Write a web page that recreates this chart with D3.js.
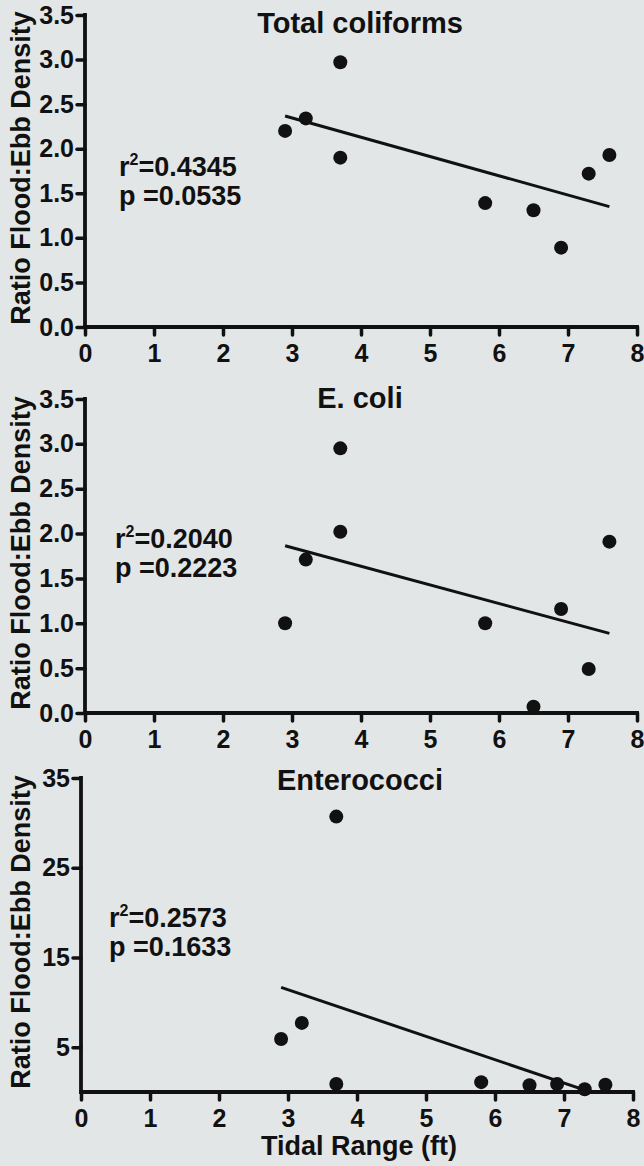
<!DOCTYPE html>
<html>
<head>
<meta charset="utf-8">
<script src="https://cdn.jsdelivr.net/npm/d3@7"></script>
<style>
  html, body { margin: 0; padding: 0; background: #e3e6e6; }
  svg { display: block; }
  text { font-family: "Liberation Sans", Arial, Helvetica, sans-serif; font-weight: bold; fill: #111; }
</style>
</head>
<body>
<script>
// ---- Data ----
const tidalRange = [2.9, 3.2, 3.7, 3.7, 5.8, 6.5, 6.9, 7.3, 7.6];
const totalColiforms = [2.20, 2.34, 2.97, 1.90, 1.39, 1.31, 0.89, 1.72, 1.93];
const eColi = [1.00, 1.71, 2.95, 2.02, 1.00, 0.07, 1.16, 0.49, 1.91];
const enterococci = [5.9, 7.7, 30.7, 0.9, 1.1, 0.75, 0.9, 0.3, 0.8];

const panelTitles = ["Total coliforms", "E. coli", "Enterococci"];
const r2Labels = ["0.4345", "0.2040", "0.2573"];
const pLabels = ["0.0535", "0.2223", "0.1633"];

const xTicks = [0, 1, 2, 3, 4, 5, 6, 7, 8];
const ratioTicks = [0, 0.5, 1.0, 1.5, 2.0, 2.5, 3.0, 3.5];
const enteroTicks = [5, 15, 25, 35];

const yAxisLabel = "Ratio Flood:Ebb Density";
const xAxisLabel = "Tidal Range (ft)";

// ---- Layout (positions/styles only) ----
const W = 644, H = 1166;
const layout = [
  { top: 15,  bottom: 327,  left: 85, right: 637, titleY: 33,  statX: 119, statY: 176, yMax: 3.5, fmt: d3.format(".1f") },
  { top: 399, bottom: 713,  left: 85, right: 637, titleY: 408, statX: 115, statY: 548, yMax: 3.5, fmt: d3.format(".1f") },
  { top: 778, bottom: 1092, left: 81, right: 633, titleY: 790, statX: 109, statY: 927, yMax: 35,  fmt: d3.format("d") }
];
const seriesList = [totalColiforms, eColi, enterococci];
const tickList = [ratioTicks, ratioTicks, enteroTicks];

const svg = d3.select("body").append("svg").attr("width", W).attr("height", H);
svg.append("rect").attr("width", W).attr("height", H).attr("fill", "#e3e6e6");

function linFit(xs, ys) {
  const mx = d3.mean(xs), my = d3.mean(ys);
  let sxy = 0, sxx = 0;
  xs.forEach((x, i) => { sxy += (x - mx) * (ys[i] - my); sxx += (x - mx) * (x - mx); });
  const b = sxy / sxx;
  return { a: my - b * mx, b };
}

layout.forEach((L, i) => {
  const ys = seriesList[i];
  const x = d3.scaleLinear().domain([0, 8]).range([L.left, L.right]);
  const y = d3.scaleLinear().domain([0, L.yMax]).range([L.bottom, L.top]);
  const g = svg.append("g");

  const clipId = "clip" + i;
  svg.append("clipPath").attr("id", clipId).append("rect")
    .attr("x", L.left).attr("y", L.top).attr("width", L.right - L.left).attr("height", L.bottom - L.top);

  const xAxis = g.append("g").attr("transform", `translate(0,${L.bottom})`)
    .call(d3.axisBottom(x).tickValues(xTicks).tickFormat(d3.format("d")).tickSizeOuter(0).tickSize(8).tickPadding(9));
  const yAxis = g.append("g").attr("transform", `translate(${L.left},0)`)
    .call(d3.axisLeft(y).tickValues(tickList[i]).tickFormat(L.fmt).tickSizeOuter(0).tickSize(8).tickPadding(3));

  [xAxis, yAxis].forEach(ax => {
    ax.select(".domain").attr("stroke", "#111").attr("stroke-width", 3.8).attr("stroke-linecap", "square");
    ax.selectAll(".tick line").attr("stroke", "#111").attr("stroke-width", 3.5).attr("stroke-linecap", "round");
    ax.selectAll(".tick text").attr("font-size", 25).attr("fill", "#111")
      .attr("font-family", '"Liberation Sans", Arial, Helvetica, sans-serif').attr("font-weight", "bold");
  });
  yAxis.select(".domain").attr("d", `M0,${y(L.yMax)}V${y(0)}`);
  xAxis.select(".domain").attr("d", `M${x(0)},0H${x(8)}`);

  // regression line (least squares on the plotted points)
  const fit = linFit(tidalRange, ys);
  const x0 = d3.min(tidalRange), x1 = d3.max(tidalRange);
  g.append("line")
    .attr("clip-path", `url(#${clipId})`)
    .attr("x1", x(x0)).attr("y1", y(fit.a + fit.b * x0))
    .attr("x2", x(x1)).attr("y2", y(fit.a + fit.b * x1))
    .attr("stroke", "#111").attr("stroke-width", 3);

  g.selectAll("circle.pt").data(tidalRange.map((t, k) => [t, ys[k]])).enter()
    .append("circle").attr("class", "pt")
    .attr("cx", d => x(d[0])).attr("cy", d => y(d[1])).attr("r", 7).attr("fill", "#111");

  g.append("text").attr("x", 360).attr("y", L.titleY).attr("text-anchor", "middle")
    .attr("font-size", 29).text(panelTitles[i]);

  const t1 = g.append("text").attr("x", L.statX).attr("y", L.statY).attr("font-size", 27);
  t1.append("tspan").text("r");
  t1.append("tspan").attr("font-size", 16).attr("dy", -11).text("2");
  t1.append("tspan").attr("dy", 11).text("=" + r2Labels[i]);
  g.append("text").attr("x", L.statX).attr("y", L.statY + 29).attr("font-size", 27)
    .text("p =" + pLabels[i]);

  g.append("text")
    .attr("transform", `translate(30,${(L.top + L.bottom) / 2 - 3}) rotate(-90)`)
    .attr("text-anchor", "middle").attr("font-size", 27).text(yAxisLabel);
});

svg.append("text").attr("x", 359).attr("y", 1155).attr("text-anchor", "middle")
  .attr("font-size", 27).text(xAxisLabel);
</script>
</body>
</html>
